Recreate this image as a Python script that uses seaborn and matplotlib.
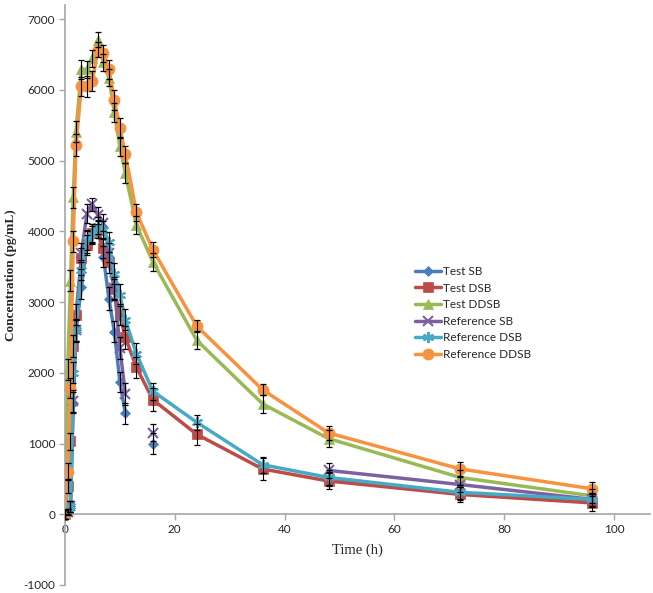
import numpy as np
import matplotlib
matplotlib.use("Agg")
import matplotlib.pyplot as plt
import seaborn as sns

nan = np.nan

# sampling times (h)
times = [0, 0.5, 1, 1.5, 2, 3, 4, 5, 6, 7, 8, 9, 10, 11, 13, 16, 24, 36, 48, 72, 96]

# mean concentration (pg/mL)
test_sb = [0, 30, 110, 1580, 2600, 3210, 3850, 3980, 4030, 3640, 3050, 2580, 1870, 1430, nan, 1000, nan, nan, 500, 290, 190]
test_dsb = [0, 400, 1030, 2380, 2820, 3620, 3810, 3970, 4020, 3760, 3560, 3180, 2820, 2500, 2080, 1620, 1130, 640, 470, 280, 160]
test_ddsb = [0, 2050, 3300, 4480, 5410, 6290, 6290, 6450, 6710, 6390, 6170, 5680, 5200, 4820, 4090, 3570, 2460, 1560, 1070, 520, 260]
ref_sb = [0, 30, 110, 1600, 2600, 3700, 4250, 4380, 4230, 4120, 3700, 3200, 2350, 1700, nan, 1150, nan, nan, 620, 420, 210]
ref_dsb = [0, 40, 110, 2000, 2600, 3450, 3880, 3950, 4080, 4020, 3850, 3400, 3100, 2750, 2270, 1740, 1300, 700, 520, 310, 210]
ref_ddsb = [0, 600, 1790, 3860, 5220, 6050, 6050, 6130, 6570, 6520, 6290, 5860, 5460, 5090, 4270, 3740, 2660, 1760, 1150, 640, 360]

# standard deviations
test_sb_err = [60, 40, 80, 150, 160, 170, 150, 130, 130, 150, 160, 150, 140, 150, nan, 150, nan, nan, 100, 90, 90]
test_dsb_err = [60, 100, 120, 150, 150, 150, 140, 130, 120, 140, 150, 150, 150, 160, 150, 160, 150, 150, 110, 110, 120]
test_ddsb_err = [60, 150, 150, 150, 150, 130, 120, 120, 110, 120, 120, 130, 130, 140, 130, 130, 130, 130, 120, 110, 100]
ref_sb_err = [60, 40, 80, 150, 150, 140, 130, 90, 120, 120, 140, 150, 150, 150, nan, 120, nan, nan, 110, 110, 90]
ref_dsb_err = [60, 40, 80, 150, 150, 140, 140, 130, 120, 130, 140, 150, 150, 150, 150, 120, 110, 110, 100, 100, 90]
ref_ddsb_err = [60, 120, 140, 150, 150, 130, 150, 140, 110, 120, 130, 140, 140, 120, 120, 110, 90, 80, 100, 100, 100]

names = ["Test SB", "Test DSB", "Test DDSB", "Reference SB", "Reference DSB", "Reference DDSB"]
values = [test_sb, test_dsb, test_ddsb, ref_sb, ref_dsb, ref_ddsb]
errors = [test_sb_err, test_dsb_err, test_ddsb_err, ref_sb_err, ref_dsb_err, ref_ddsb_err]
colors = ["#4A7EBB", "#BE4B48", "#98B954", "#7D60A0", "#46AAC5", "#F7923F"]
markers = ["D", "s", "^", "x", (6, 2, 0), "o"]
msizes = [5, 7, 7, 7, 8, 8]

sns.set_theme(style="white")
plt.rcParams['font.family'] = ['Lato', 'DejaVu Sans']
plt.rcParams['axes.unicode_minus'] = False

fig, ax = plt.subplots(figsize=(6.53, 5.93), dpi=100)
fig.subplots_adjust(left=0.0995, right=0.995, bottom=0.0135, top=0.9916)

for i in range(len(names)):
    ax.plot(times, values[i], color=colors[i], marker=markers[i], markersize=msizes[i],
            markeredgewidth=1.5 if markers[i] in ("x", (6, 2, 0)) else 0.5,
            markeredgecolor=colors[i], linewidth=2.5, label=names[i], zorder=2 + i * 0.1)
    ax.errorbar(times, values[i], yerr=errors[i], fmt='none', ecolor='black',
                elinewidth=0.8, capsize=2.5, capthick=0.9, zorder=3)

ax.set_xlim(0, 106.5)
ax.set_ylim(-1000, 7200)
ax.set_xticks([0, 20, 40, 60, 80, 100])
ax.set_yticks(range(-1000, 8000, 1000))

ax.spines['top'].set_visible(False)
ax.spines['right'].set_visible(False)
ax.spines['bottom'].set_position(('data', 0))
for s in ['left', 'bottom']:
    ax.spines[s].set_color('#A6A6A6')
    ax.spines[s].set_linewidth(1.2)
ax.tick_params(axis='both', direction='out', length=4, width=1, color='#A6A6A6',
               labelsize=8.5, bottom=True, left=True, pad=3)

ax.set_xlabel("Time (h)", family='Liberation Serif', fontsize=10.5, labelpad=6)
ax.set_ylabel("Concentration (pg/mL)", family='Liberation Serif', fontsize=9.5,
              fontweight='bold')
ax.yaxis.set_label_coords(-0.082, 0.535)

ax.legend(loc='upper left', bbox_to_anchor=(0.59, 0.558), frameon=False,
          fontsize=8.5, handlelength=2.2, labelspacing=0.47, handletextpad=0.2,
          borderaxespad=0)

fig.savefig("out.png", dpi=100)
